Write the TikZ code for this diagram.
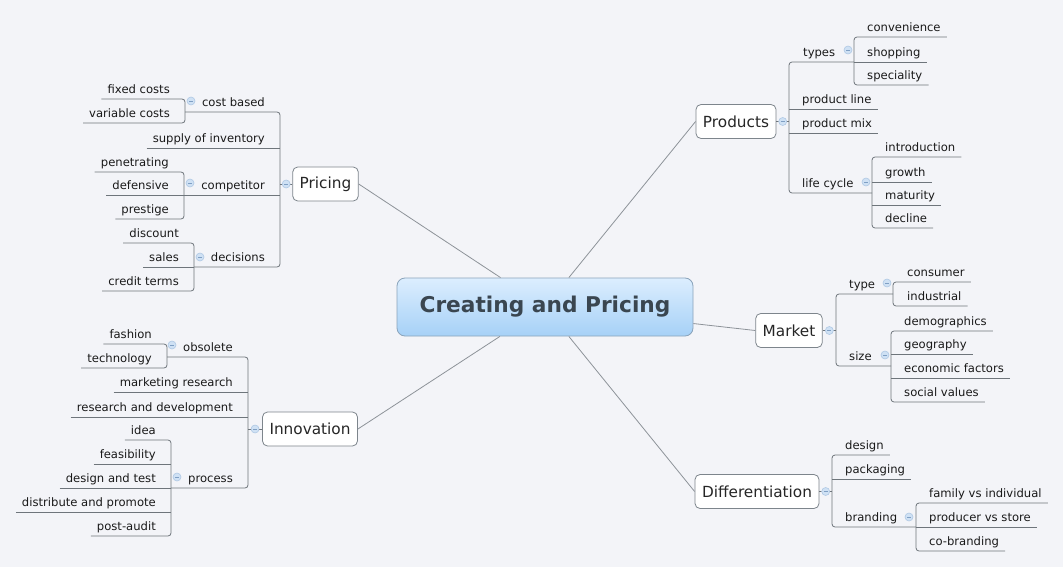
\documentclass[tikz,border=0pt]{standalone}
\usepackage{fontspec}
\setmainfont{DejaVu Sans}
\usetikzlibrary{calc}

\begin{document}
\begin{tikzpicture}[x=1pt,y=-1pt]
%% Colors
\definecolor{bgCol}{HTML}{F3F4F8}
\definecolor{lineCol}{HTML}{6E757B}
\definecolor{branchCol}{HTML}{8D9399}
\definecolor{topicLine}{HTML}{7D858C}
\definecolor{foldFill}{HTML}{CFE1F4}
\definecolor{foldLine}{HTML}{AFC8E4}
\definecolor{foldMinus}{HTML}{7F9FC4}
\definecolor{rootTop}{HTML}{DCEEFE}
\definecolor{rootBot}{HTML}{A6D1F7}
\definecolor{rootLine}{HTML}{8AA3BA}
\definecolor{rootText}{HTML}{3A4650}
%% Styles
\tikzset{
root/.style={draw=rootLine, line width=0.8pt, rounded corners=8pt, top color=rootTop, bottom color=rootBot,
  minimum width=296pt, minimum height=58pt, text=rootText, font=\fontsize{21.7}{24}\selectfont\bfseries},
topic/.style={draw=topicLine, line width=0.8pt, fill=white, rounded corners=5pt, minimum height=34pt,
  inner xsep=7pt, text=black!85, font=\fontsize{15.3}{18}\selectfont},
leaf/.style={inner xsep=6pt, inner ysep=2.5pt, text height=8.5pt, text depth=3pt, text=black!90,
  font=\fontsize{11.6}{14}\selectfont},
lleaf/.style={leaf, anchor=south east},
rleaf/.style={leaf, anchor=south west},
ln/.style={draw=lineCol, line width=0.8pt},
brk/.style={ln, rounded corners=3pt},
branch/.style={draw=branchCol, line width=0.8pt},
fold/.style={circle, draw=foldLine, fill=foldFill, line width=0.6pt, inner sep=0pt, minimum size=8pt,
  path picture={\path[draw=foldMinus, line width=0.7pt] ([xshift=-2pt]path picture bounding box.center)
  -- ([xshift=2pt]path picture bounding box.center);}}
}

%% Background
\path[fill=bgCol] (0,0) rectangle (1063,567);
\useasboundingbox (0,0) rectangle (1063,567);

%% Central topic and main topics
\node[root] (root) at (545,307) {Creating and Pricing};
\node[topic] (pricing) at (325.5,184) {Pricing};
\node[topic] (innov) at (310,429) {Innovation};
\node[topic] (products) at (736,121.5) {Products};
\node[topic] (market) at (789,330.5) {Market};
\node[topic] (diff) at (757,491.5) {Differentiation};

\foreach \t/\a in {pricing/east,innov/east,products/west,market/west,diff/west}{
\path[branch] (\t.\a) -- (root);
}

%% Bracket columns
\coordinate (bPr) at (280,0);  \coordinate (bCb) at (185,0);
\coordinate (bCo) at (184,0);  \coordinate (bDc) at (194,0);
\coordinate (bIn) at (248,0);  \coordinate (bOb) at (167,0);
\coordinate (bPc) at (171,0);
\coordinate (bPd) at (789,0);  \coordinate (bTy) at (854,0);
\coordinate (bLc) at (872,0);
\coordinate (bMk) at (836,0);  \coordinate (bTp) at (893,0);
\coordinate (bSz) at (891,0);
\coordinate (bDf) at (832,0);  \coordinate (bBr) at (916,0);

%% Left subtopics
\foreach \n/\x/\y/\txt in {cb/271/112/cost based, sup/271/148/supply of inventory,
comp/271/195/competitor, dec/271/267/decisions,
fc/176/99/fixed costs, vc/176/123/variable costs,
pen/175/172/penetrating, def/175/195/defensive, pres/175/219/prestige,
disc/185/243/discount, sal/185/267/sales, ct/185/291/credit terms,
obs/239/357/obsolete, mr/239/392/marketing research,
rd/239/417/research and development, proc/239/488/process,
fash/158/344/fashion, tech/158/368/technology,
idea/162/440/idea, feas/162/464/feasibility, dt/162/488/design and test,
dp/162/512/distribute and promote, pa/162/536/post-audit}{
\node[lleaf] (\n) at (\x,\y) {\txt};
}

%% Right subtopics
\foreach \n/\x/\y/\txt in {ty/797/62/types, pl/796/109/product line,
pm/796/133/product mix, lc/796/193/life cycle,
conv/861/37/convenience, shop/861/62/shopping, spec/861/85/speciality,
intro/879/157/introduction, gro/879/182/growth, mat/879/205/maturity,
decl/879/228/decline,
tp/843/294/type, sz/843/366/size,
cons/901/282/consumer, ind/901/306/industrial,
demo/898/331/demographics, geo/898/354/geography,
eco/898/378/economic factors, soc/898/402/social values,
des/839/455/design, pack/839/479/packaging, brand/839/527/branding,
fam/923/503/family vs individual, prod/923/527/producer vs store,
cob/923/551/co-branding}{
\node[rleaf] (\n) at (\x,\y) {\txt};
}

% Pricing
\path[brk] (cb.south -| bCb) -- (cb.south -| bPr) -- (dec.south -| bPr) -- (dec.south -| bDc);
\path[ln] (sup.south west) -- (sup.south -| bPr);
\path[ln] (comp.south -| bCo) -- (comp.south -| bPr);
\path[ln] (pricing.west) -- node[fold] (fPr) {} (pricing.west -| bPr);
\path[brk] (fc.south west) -- (fc.south -| bCb) -- (vc.south -| bCb) -- (vc.south west);
\path[brk] (pen.south west) -- (pen.south -| bCo) -- (pres.south -| bCo) -- (pres.south west);
\path[ln] (def.south west) -- (def.south -| bCo);
\path[brk] (disc.south west) -- (disc.south -| bDc) -- (ct.south -| bDc) -- (ct.south west);
\path[ln] (sal.south west) -- (sal.south -| bDc);

% Innovation
\path[brk] (obs.south -| bOb) -- (obs.south -| bIn) -- (proc.south -| bIn) -- (proc.south -| bPc);
\path[ln] (mr.south west) -- (mr.south -| bIn);
\path[ln] (rd.south west) -- (rd.south -| bIn);
\path[ln] (innov.west) -- node[fold] (fIn) {} (innov.west -| bIn);
\path[brk] (fash.south west) -- (fash.south -| bOb) -- (tech.south -| bOb) -- (tech.south west);
\path[brk] (idea.south west) -- (idea.south -| bPc) -- (pa.south -| bPc) -- (pa.south west);
\foreach \n in {feas,dt,dp}{
\path[ln] (\n.south west) -- (\n.south -| bPc);
}

% Products
\path[brk] (ty.south -| bTy) -- (ty.south -| bPd) -- (lc.south -| bPd) -- (lc.south -| bLc);
\path[ln] (pl.south -| bPd) -- (pl.south east);
\path[ln] (pm.south -| bPd) -- (pm.south east);
\path[ln] (products.east) -- node[fold] (fPd) {} (products.east -| bPd);
\path[brk] (conv.south east) -- (conv.south -| bTy) -- (spec.south -| bTy) -- (spec.south east);
\path[ln] (shop.south -| bTy) -- (shop.south east);
\path[brk] (intro.south east) -- (intro.south -| bLc) -- (decl.south -| bLc) -- (decl.south east);
\path[ln] (gro.south -| bLc) -- (gro.south east);
\path[ln] (mat.south -| bLc) -- (mat.south east);

% Market
\path[brk] (tp.south -| bTp) -- (tp.south -| bMk) -- (sz.south -| bMk) -- (sz.south -| bSz);
\path[ln] (market.east) -- node[fold] (fMk) {} (market.east -| bMk);
\path[brk] (cons.south east) -- (cons.south -| bTp) -- (ind.south -| bTp) -- (ind.south east);
\path[brk] (demo.south east) -- (demo.south -| bSz) -- (soc.south -| bSz) -- (soc.south east);
\path[ln] (geo.south -| bSz) -- (geo.south east);
\path[ln] (eco.south -| bSz) -- (eco.south east);

% Differentiation
\path[brk] (des.south east) -- (des.south -| bDf) -- (brand.south -| bDf) -- (brand.south -| bBr);
\path[ln] (pack.south -| bDf) -- (pack.south east);
\path[ln] (diff.east) -- node[fold] (fDf) {} (diff.east -| bDf);
\path[brk] (fam.south east) -- (fam.south -| bBr) -- (cob.south -| bBr) -- (cob.south east);
\path[ln] (prod.south -| bBr) -- (prod.south east);

%% Fold buttons of subtopics
\foreach \n/\x/\y in {fCb/191/101, fCo/190/183, fDc/200/257, fOb/172/345, fPc/177/477,
fTy/848/50, fLc/866/182, fTp/887/283, fSz/885/355, fBr/909/517}{
\node[fold] (\n) at (\x,\y) {};
}

\end{tikzpicture}
\end{document}
